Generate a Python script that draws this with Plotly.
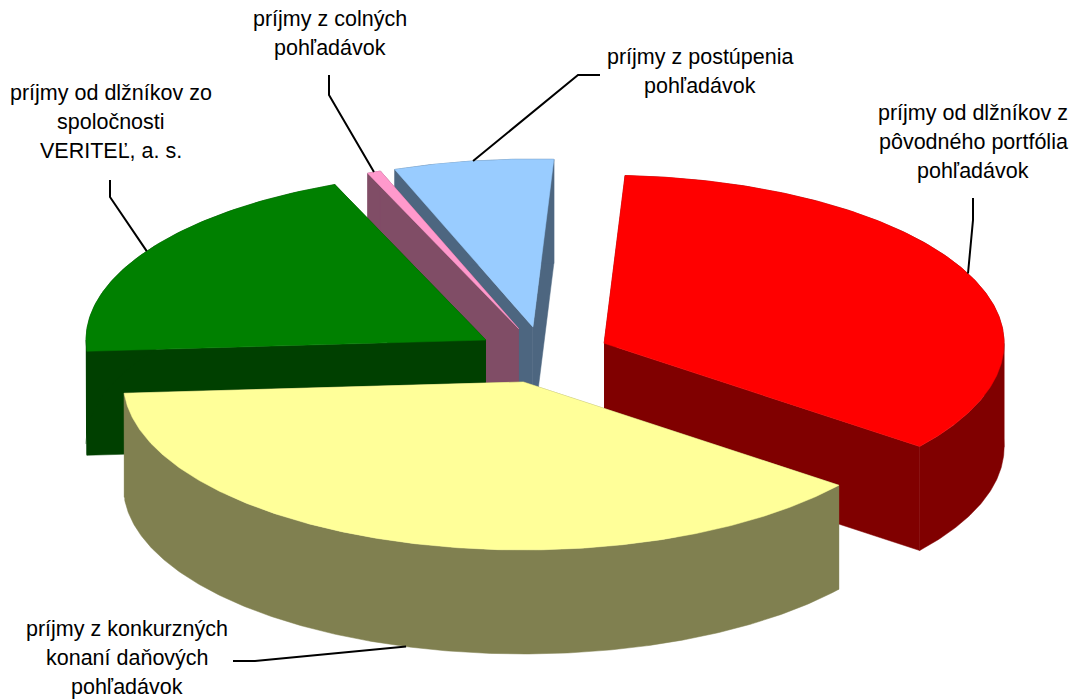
import numpy as np
import plotly.graph_objects as go

# Data (order clockwise from the start angle)
names = ["red", "yellow", "green", "pink", "blue"]
shares = [34.7, 38.4, 19.9, 0.55, 6.45]
top_colors = ["#FF0000", "#FFFF99", "#008000", "#FF99CC", "#99CCFF"]
side_colors = ["#800000", "#808050", "#004000", "#804D66", "#4D6680"]
label_lines = [
    ["príjmy od dlžníkov z", "pôvodného portfólia", "pohľadávok"],
    ["príjmy z konkurzných", "konaní daňových", "pohľadávok"],
    ["príjmy od dlžníkov zo", "spoločnosti", "VERITEĽ, a. s."],
    ["príjmy z colných", "pohľadávok"],
    ["príjmy z postúpenia", "pohľadávok"],
]
label_pos = [(973, 113), (127, 629), (111, 93), (330, 19), (700, 57)]
leader_elbows = [
    [(973, 198), (973, 220)],
    [(233, 661), (255, 661)],
    [(110, 180), (110, 197)],
    [(329, 75), (329, 95)],
    [(600, 75), (578, 75)],
]

# Pie geometry
CX, CY = 543, 355
A, B = 400, 168
DEPTH = 104
EXPLODE = 0.168
START = 87.0
LINE_STEP = 29.0
draw_order = [4, 3, 2, 0, 1]

fig = go.Figure()
total = sum(shares)
angles = START - np.cumsum([0] + shares) / total * 360
geo = []
for i in range(len(shares)):
    t0, t1 = angles[i], angles[i + 1]
    mid = np.radians((t0 + t1) / 2)
    ax = CX + EXPLODE * A * np.cos(mid)
    ay = CY - EXPLODE * B * np.sin(mid)
    deg = np.linspace(t0, t1, max(8, int(abs(t1 - t0) * 2)))
    # include the left/right extremes so the rim wall can be split there
    extremes = [k * 180.0 for k in range(-3, 3) if t1 < k * 180.0 < t0]
    deg = np.sort(np.r_[deg, extremes])[::-1]
    t = np.radians(deg)
    rx = ax + A * np.cos(t)
    ry = ay - B * np.sin(t)
    geo.append((ax, ay, rx, ry, mid, deg))


def poly(x, y, color):
    fig.add_trace(go.Scatter(x=list(x), y=list(y), mode="lines", fill="toself",
                             fillcolor=color, line=dict(color=color, width=0.5),
                             hoverinfo="skip", showlegend=False))


for i in draw_order:
    ax, ay, rx, ry, mid, deg = geo[i]
    side, top = side_colors[i], top_colors[i]
    # cut walls
    poly([ax, rx[0], rx[0], ax], [ay, ry[0], ry[0] + DEPTH, ay + DEPTH], side)
    poly([ax, rx[-1], rx[-1], ax], [ay, ry[-1], ry[-1] + DEPTH, ay + DEPTH], side)
    # rim wall, one piece per half turn so its silhouette closes at the extremes
    cuts = [0] + [j for j, d in enumerate(deg) if 0 < j < len(deg) - 1 and d % 180 == 0] + [len(deg) - 1]
    for s, e in zip(cuts[:-1], cuts[1:]):
        px, py = rx[s:e + 1], ry[s:e + 1]
        poly(np.r_[px, px[::-1]], np.r_[py, py[::-1] + DEPTH], side)
    # top
    poly(np.r_[ax, rx, ax], np.r_[ay, ry, ay], top)

# Leader lines: from the label elbow to the rim at the slice's mid angle
for i, elbow in enumerate(leader_elbows):
    ax, ay, rx, ry, mid, deg = geo[i]
    ex = ax + A * np.cos(mid)
    ey = ay - B * np.sin(mid)
    if np.sin(mid) < 0:
        ey += DEPTH
    xs = [p[0] for p in elbow] + [ex]
    ys = [p[1] for p in elbow] + [ey]
    fig.add_trace(go.Scatter(x=xs, y=ys, mode="lines", line=dict(color="black", width=2),
                             hoverinfo="skip", showlegend=False))

annotations = []
for lines, (lx, ly) in zip(label_lines, label_pos):
    for j, line in enumerate(lines):
        annotations.append(dict(x=lx, y=ly + j * LINE_STEP, text=line, showarrow=False,
                                xanchor="center", yanchor="middle",
                                font=dict(family="Liberation Sans, Arial", size=21.5, color="black")))

fig.update_layout(
    width=1073, height=700, margin=dict(l=0, r=0, t=0, b=0),
    paper_bgcolor="white", plot_bgcolor="white", showlegend=False,
    xaxis=dict(range=[0, 1073], visible=False, fixedrange=True),
    yaxis=dict(range=[700, 0], visible=False, fixedrange=True),
    annotations=annotations,
)
fig.write_html("out.html", config=dict(displayModeBar=False),
               post_script="document.body.style.margin='0';")
